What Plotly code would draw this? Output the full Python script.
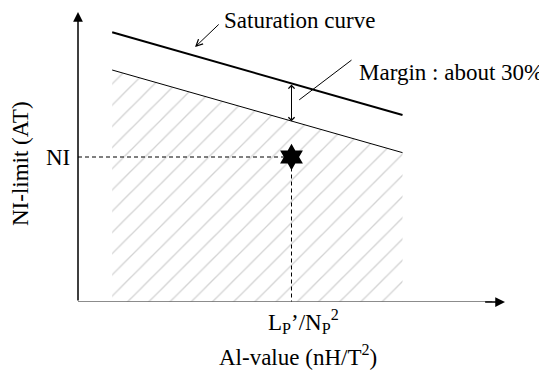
import plotly.graph_objects as go

# schematic values (arbitrary units, axes run 0..10)
line_x = [0.8, 7.6]
saturation_y = [9.3, 6.45]
limit_y = [8.0, 5.15]
design_x = 5.0
design_y = 5.0
margin_y = [7.55, 6.23]
FONT = "Liberation Serif, Times New Roman, serif"
FS = 23

fig = go.Figure()

# hatched permissible area under the NI-limit line
fig.add_trace(go.Scatter(
    x=[line_x[0], line_x[1], line_x[1], line_x[0]],
    y=[limit_y[0], limit_y[1], 0, 0],
    fill="toself", mode="none", fillcolor="rgba(0,0,0,0)",
    fillpattern=dict(shape="/", fgcolor="#a8a8a8", bgcolor="white", size=15, solidity=0.09),
    hoverinfo="skip"))

# saturation curve and NI-limit line
fig.add_trace(go.Scatter(x=line_x, y=saturation_y, mode="lines",
                         line=dict(color="black", width=2)))
fig.add_trace(go.Scatter(x=line_x, y=limit_y, mode="lines",
                         line=dict(color="black", width=1)))

# dashed guides to the operating point
fig.add_trace(go.Scatter(x=[0, design_x, design_x], y=[design_y, design_y, 0], mode="lines",
                         line=dict(color="black", width=1, dash="4px,3px")))
fig.add_trace(go.Scatter(x=[design_x], y=[design_y], mode="markers",
                         marker=dict(symbol="hexagram", size=20, color="black")))

# axes with arrow heads (x axis line is grey, heads are black)
fig.add_trace(go.Scatter(x=[0, 9.7], y=[0, 0], mode="lines",
                         line=dict(color="#666666", width=1.5)))
fig.add_annotation(x=10, y=0, ax=9.5, ay=0, xref="x", yref="y", axref="x", ayref="y",
                   showarrow=True, arrowhead=2, arrowsize=1.3, arrowwidth=1.5,
                   arrowcolor="black", text="")
fig.add_annotation(x=0, y=10, ax=0, ay=0, xref="x", yref="y", axref="x", ayref="y",
                   showarrow=True, arrowhead=2, arrowsize=1.3, arrowwidth=1.5,
                   arrowcolor="black", text="")

# margin double arrow
fig.add_annotation(x=design_x, y=margin_y[1], ax=design_x, ay=margin_y[0],
                   xref="x", yref="y", axref="x", ayref="y", text="",
                   showarrow=True, arrowside="end+start", arrowhead=4, startarrowhead=4,
                   arrowsize=1.2, startarrowsize=1.2, arrowwidth=1, arrowcolor="black")
# margin leader
fig.add_annotation(x=5.18, y=6.97, ax=6.44, ay=8.38, xref="x", yref="y", axref="x", ayref="y",
                   text="", showarrow=True, arrowhead=0, arrowwidth=1, arrowcolor="black")
fig.add_annotation(x=6.53, y=7.93, xref="x", yref="y", text="Margin : about 30%",
                   showarrow=False, xanchor="left", yanchor="middle",
                   font=dict(family=FONT, size=FS, color="black"))

# saturation curve leader
fig.add_annotation(x=2.74, y=8.79, ax=3.33, ay=9.62, xref="x", yref="y", axref="x", ayref="y",
                   text="", showarrow=True, arrowhead=5, arrowsize=1.3, arrowwidth=1,
                   arrowcolor="black")
fig.add_annotation(x=3.37, y=9.72, xref="x", yref="y", text="Saturation curve",
                   showarrow=False, xanchor="left", yanchor="middle",
                   font=dict(family=FONT, size=FS, color="black"))

# labels
fig.add_annotation(x=0, y=design_y, xref="x", yref="y", text="NI", showarrow=False,
                   xanchor="right", yanchor="middle", xshift=-6,
                   font=dict(family=FONT, size=FS, color="black"))
fig.add_annotation(x=design_x, y=0, xref="x", yref="y",
                   text="L<sub>P</sub>’/N<sub>P</sub><sup>2</sup>", showarrow=False,
                   xanchor="center", yanchor="top", xshift=12, yshift=-2,
                   font=dict(family=FONT, size=FS, color="black"))
fig.add_annotation(x=0.5, y=-0.185, xref="paper", yref="paper",
                   text="Al-value (nH/T<sup>2</sup>)", showarrow=False,
                   xanchor="center", yanchor="middle", xshift=6,
                   font=dict(family=FONT, size=FS, color="black"))
fig.add_annotation(x=-0.136, y=0.479, xref="paper", yref="paper", text="NI-limit (AT)",
                   showarrow=False, textangle=-90, xanchor="center", yanchor="middle",
                   font=dict(family=FONT, size=FS, color="black"))

fig.update_xaxes(range=[0, 10], visible=False)
fig.update_yaxes(range=[0, 10], visible=False)
# page body adds an 8px margin, so the figure is 8px smaller on each axis
fig.update_layout(width=539, height=363, margin=dict(l=70, r=42, t=4, b=69),
                  plot_bgcolor="white", paper_bgcolor="white", showlegend=False,
                  font=dict(family=FONT, size=FS, color="black"))
fig.write_html("out.html")
